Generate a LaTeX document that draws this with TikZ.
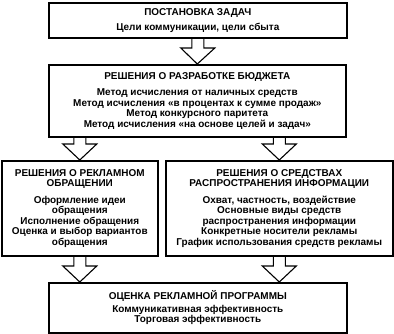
\documentclass[tikz,border=0pt]{standalone}
\usepackage{fontspec}
\setmainfont{Liberation Sans}
\usetikzlibrary{calc}

\begin{document}
\begin{tikzpicture}[x=1bp, y=1bp, every node/.style={draw, line width=1.6bp, align=center, anchor=north west, inner sep=2bp, font=\fontsize{10}{10.6}\selectfont\bfseries}, blockarrow/.style={draw, line width=1.1bp, line join=miter}]
\useasboundingbox (0,0) rectangle (394,-334);
\node[minimum width=298bp, minimum height=35bp] (a) at (48,-2) {ПОСТАНОВКА ЗАДАЧ\\[4bp] Цели коммуникации, цели сбыта};
\node[minimum width=297bp, minimum height=72bp] (b) at (48,-64) {РЕШЕНИЯ О РАЗРАБОТКЕ БЮДЖЕТА\\[6bp] Метод исчисления от наличных средств\\ Метод исчисления «в процентах к сумме продаж»\\ Метод конкурсного паритета\\ Метод исчисления «на основе целей и задач»};
\node[minimum width=156bp, minimum height=95bp] (c) at (1,-160) {РЕШЕНИЯ О РЕКЛАМНОМ\\ ОБРАЩЕНИИ\\[6bp] Оформление идеи\\ обращения\\ Исполнение обращения\\ Оценка и выбор вариантов\\ обращения};
\node[minimum width=227bp, minimum height=95bp] (d) at (165,-160) {РЕШЕНИЯ О СРЕДСТВАХ\\ РАСПРОСТРАНЕНИЯ ИНФОРМАЦИИ\\[6bp] Охват, частность, воздействие\\ Основные виды средств\\ распространения информации\\ Конкретные носители рекламы\\ График использования средств рекламы};
\node[minimum width=298bp, minimum height=50bp] (e) at (48,-282) {ОЦЕНКА РЕКЛАМНОЙ ПРОГРАММЫ\\[2bp] Коммуникативная эффективность\\ Торговая эффективность};
\foreach \s/\t in {a.south/b.north, b.south -| c.north/c.north, b.south -| d.north/d.north, c.south/e.north -| c.south, d.south/e.north -| d.south}{\draw[blockarrow] let \p1=(\s), \p2=(\t) in (\x1-6bp,\y1) -- (\x1-6bp,\y2+16bp) -- (\x1-17bp,\y2+16bp) -- (\x2,\y2) -- (\x1+17bp,\y2+16bp) -- (\x1+6bp,\y2+16bp) -- (\x1+6bp,\y1);}
\end{tikzpicture}
\end{document}
